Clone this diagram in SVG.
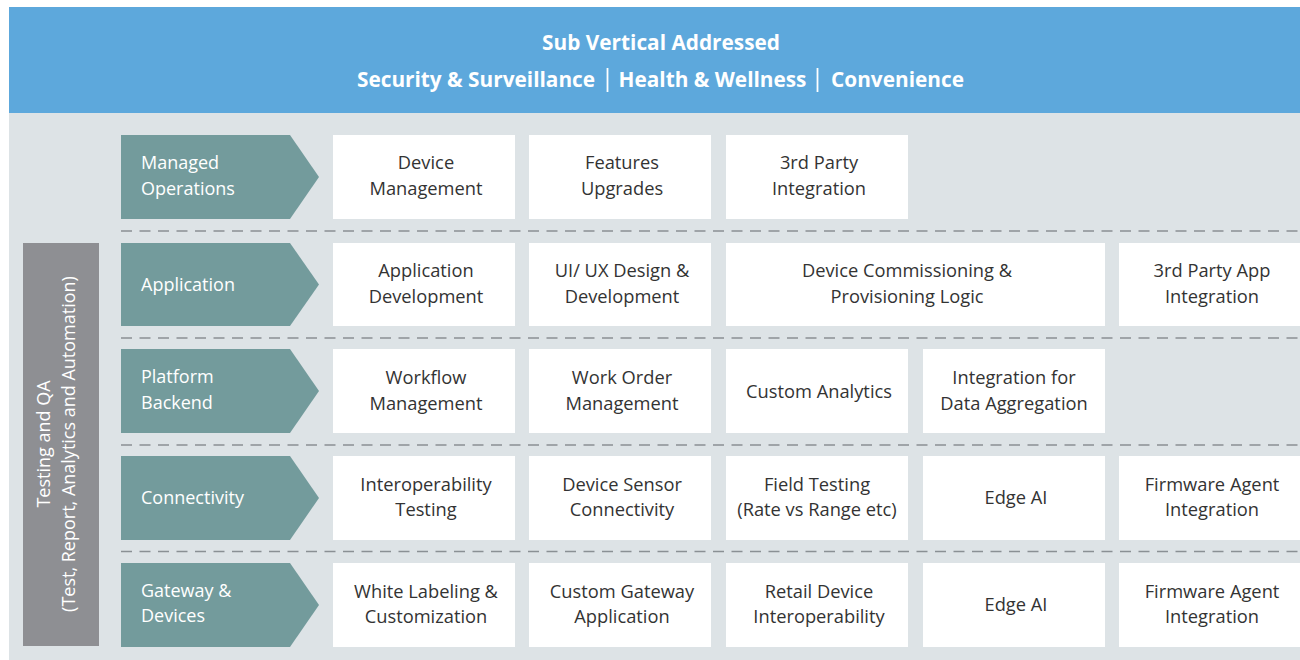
<svg xmlns="http://www.w3.org/2000/svg" width="1300" height="660" viewBox="0 0 1300 660">
<style>
.hd{font-family:"Open Sans","Noto Sans",sans-serif;font-weight:bold;fill:#fff;text-anchor:middle;font-size:20.8px}
.ch{fill:#739b9c}
.cl{font-family:"Open Sans","Noto Sans",sans-serif;font-size:18px;fill:#fff}
.bx{fill:#fff}
.bt{font-family:"Open Sans","Noto Sans",sans-serif;font-size:18.3px;fill:#333;text-anchor:middle}
.dash{stroke:#8a9094;stroke-width:1.4;stroke-dasharray:11 7.5;fill:none}
.vt{font-family:"Open Sans","Noto Sans",sans-serif;font-size:18px;fill:#fff;text-anchor:middle}
.pipe{stroke:#fff;stroke-width:1.8}
</style>
<rect x="0" y="0" width="1300" height="660" fill="#fff"/>
<rect x="9" y="113" width="1291" height="547" fill="#dde3e6"/>
<g id="header">
<rect x="9" y="7" width="1291" height="106" fill="#5da8dc"/>
<text class="hd" x="661" y="50">Sub Vertical Addressed</text>
<text class="hd" x="476" y="87">Security &amp; Surveillance</text>
<line class="pipe" x1="607.5" y1="68" x2="607.5" y2="92"/>
<text class="hd" x="712.5" y="87">Health &amp; Wellness</text>
<line class="pipe" x1="817.5" y1="68" x2="817.5" y2="92"/>
<text class="hd" x="897.5" y="87">Convenience</text>
</g>
<g id="connectors">
<line class="dash" x1="121" y1="231" x2="1300" y2="231"/>
<line class="dash" x1="121" y1="338" x2="1300" y2="338"/>
<line class="dash" x1="121" y1="445" x2="1300" y2="445"/>
<line class="dash" x1="121" y1="551.5" x2="1300" y2="551.5"/>
</g>
<g id="testing-qa">
<rect x="23" y="243" width="76" height="403" fill="#8e8f93"/>
<text class="vt" transform="translate(50,444) rotate(-90)">Testing and QA</text>
<text class="vt" transform="translate(75,444) rotate(-90)">(Test, Report, Analytics and Automation)</text>
</g>
<g id="managed-operations">
<polygon class="ch" points="121,135 290,135 319,177 290,219 121,219"/>
<text class="cl" x="141" y="169">Managed</text>
<text class="cl" x="141" y="195">Operations</text>
</g>
<g id="application">
<polygon class="ch" points="121,243 290,243 319,284.5 290,326 121,326"/>
<text class="cl" x="141" y="291">Application</text>
</g>
<g id="platform-backend">
<polygon class="ch" points="121,349 290,349 319,391 290,433 121,433"/>
<text class="cl" x="141" y="383">Platform</text>
<text class="cl" x="141" y="409">Backend</text>
</g>
<g id="connectivity">
<polygon class="ch" points="121,456 290,456 319,498 290,540 121,540"/>
<text class="cl" x="141" y="504">Connectivity</text>
</g>
<g id="gateway-devices">
<polygon class="ch" points="121,563 290,563 319,605 290,647 121,647"/>
<text class="cl" x="141" y="597">Gateway &amp;</text>
<text class="cl" x="141" y="622">Devices</text>
</g>
<g id="device-management"><rect class="bx" x="333" y="135" width="182" height="84"/><text class="bt" x="426" y="169">Device</text><text class="bt" x="426" y="195">Management</text></g>
<g id="features-upgrades"><rect class="bx" x="529" y="135" width="182" height="84"/><text class="bt" x="622" y="169">Features</text><text class="bt" x="622" y="195">Upgrades</text></g>
<g id="third-party-integration"><rect class="bx" x="726" y="135" width="182" height="84"/><text class="bt" x="819" y="169">3rd Party</text><text class="bt" x="819" y="195">Integration</text></g>
<g id="application-development"><rect class="bx" x="333" y="243" width="182" height="83"/><text class="bt" x="426" y="277">Application</text><text class="bt" x="426" y="303">Development</text></g>
<g id="ui-ux-design"><rect class="bx" x="529" y="243" width="182" height="83"/><text class="bt" x="622" y="277">UI/ UX Design &amp;</text><text class="bt" x="622" y="303">Development</text></g>
<g id="device-commissioning"><rect class="bx" x="726" y="243" width="379" height="83"/><text class="bt" x="907" y="277">Device Commissioning &amp;</text><text class="bt" x="907" y="303">Provisioning Logic</text></g>
<g id="third-party-app-integration"><rect class="bx" x="1119" y="243" width="181" height="83"/><text class="bt" x="1212" y="277">3rd Party App</text><text class="bt" x="1212" y="303">Integration</text></g>
<g id="workflow-management"><rect class="bx" x="333" y="349" width="182" height="84"/><text class="bt" x="426" y="384">Workflow</text><text class="bt" x="426" y="410">Management</text></g>
<g id="work-order-management"><rect class="bx" x="529" y="349" width="182" height="84"/><text class="bt" x="622" y="384">Work Order</text><text class="bt" x="622" y="410">Management</text></g>
<g id="custom-analytics"><rect class="bx" x="726" y="349" width="182" height="84"/><text class="bt" x="819" y="398">Custom Analytics</text></g>
<g id="integration-data-aggregation"><rect class="bx" x="923" y="349" width="182" height="84"/><text class="bt" x="1014" y="384">Integration for</text><text class="bt" x="1014" y="410">Data Aggregation</text></g>
<g id="interoperability-testing"><rect class="bx" x="333" y="456" width="182" height="84"/><text class="bt" x="426" y="491">Interoperability</text><text class="bt" x="426" y="516">Testing</text></g>
<g id="device-sensor-connectivity"><rect class="bx" x="529" y="456" width="182" height="84"/><text class="bt" x="622" y="491">Device Sensor</text><text class="bt" x="622" y="516">Connectivity</text></g>
<g id="field-testing"><rect class="bx" x="726" y="456" width="182" height="84"/><text class="bt" x="817" y="491">Field Testing</text><text class="bt" x="817" y="516">(Rate vs Range etc)</text></g>
<g id="edge-ai-1"><rect class="bx" x="923" y="456" width="182" height="84"/><text class="bt" x="1016" y="504">Edge AI</text></g>
<g id="firmware-agent-1"><rect class="bx" x="1119" y="456" width="181" height="84"/><text class="bt" x="1212" y="491">Firmware Agent</text><text class="bt" x="1212" y="516">Integration</text></g>
<g id="white-labeling"><rect class="bx" x="333" y="563" width="182" height="84"/><text class="bt" x="426" y="598">White Labeling &amp;</text><text class="bt" x="426" y="623">Customization</text></g>
<g id="custom-gateway-application"><rect class="bx" x="529" y="563" width="182" height="84"/><text class="bt" x="622" y="598">Custom Gateway</text><text class="bt" x="622" y="623">Application</text></g>
<g id="retail-device-interoperability"><rect class="bx" x="726" y="563" width="182" height="84"/><text class="bt" x="819" y="598">Retail Device</text><text class="bt" x="819" y="623">Interoperability</text></g>
<g id="edge-ai-2"><rect class="bx" x="923" y="563" width="182" height="84"/><text class="bt" x="1016" y="611">Edge AI</text></g>
<g id="firmware-agent-2"><rect class="bx" x="1119" y="563" width="181" height="84"/><text class="bt" x="1212" y="598">Firmware Agent</text><text class="bt" x="1212" y="623">Integration</text></g>
</svg>
